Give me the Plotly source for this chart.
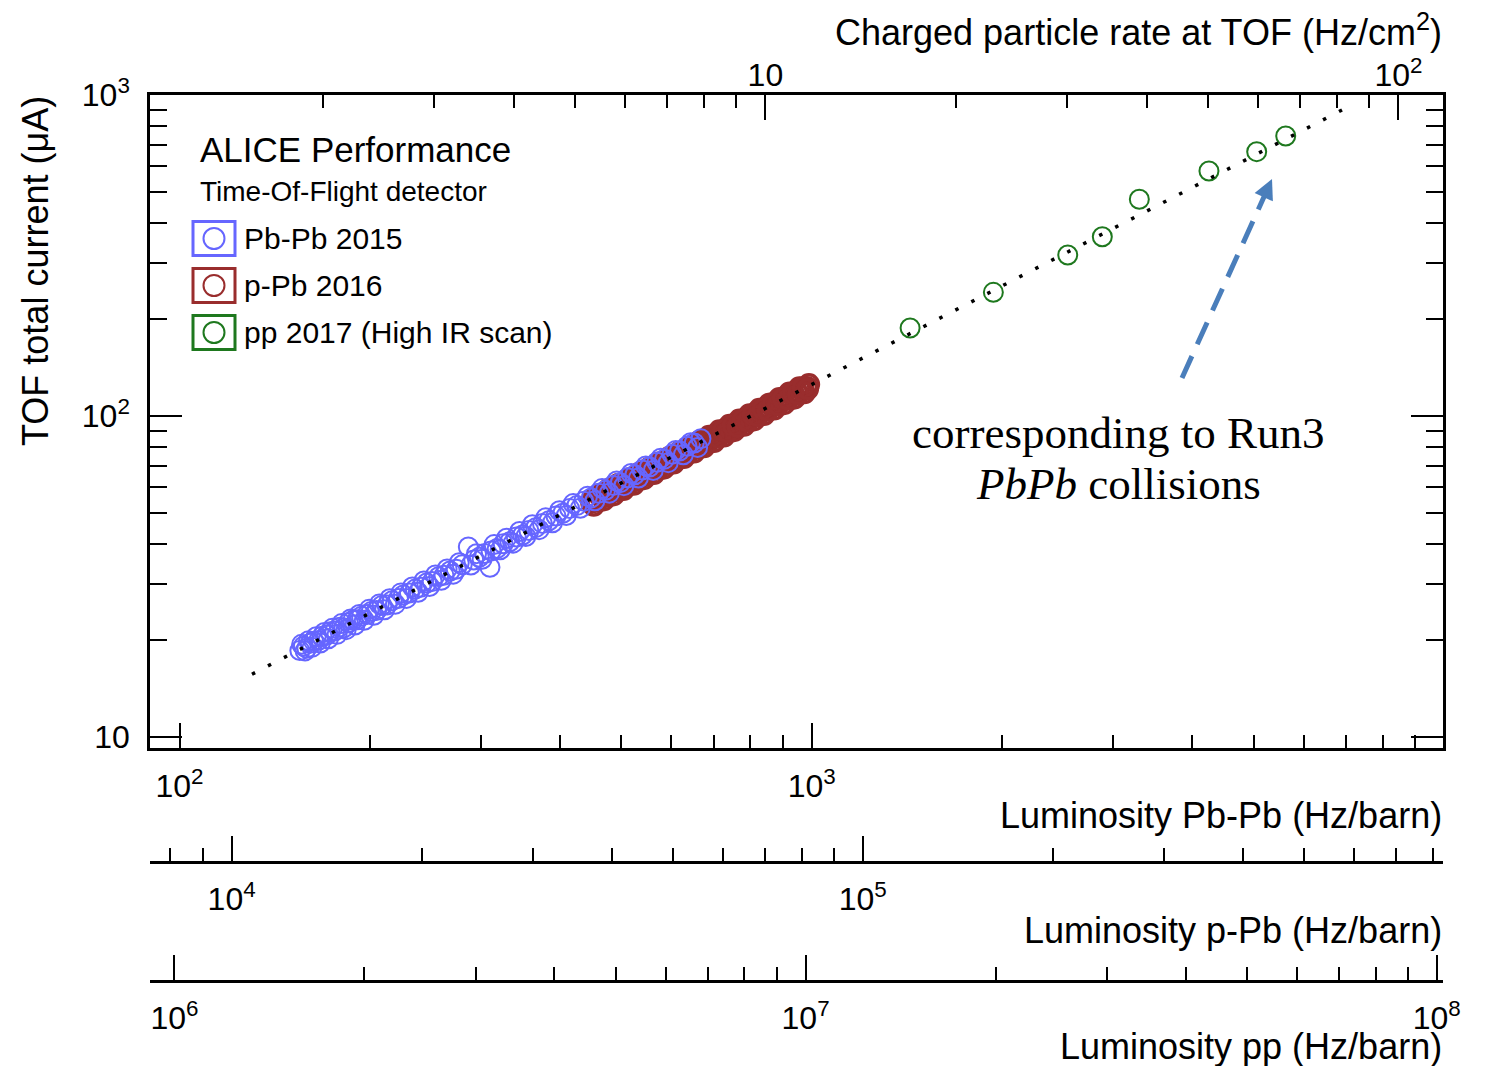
import plotly.graph_objects as go

# ---------------- data (x values expressed on the Pb-Pb luminosity scale, Hz/barn) -------------
pbpb_lumi = [155, 157, 159, 161, 163, 166, 168, 171, 173, 176, 179, 182, 185, 188, 191, 194,
             198, 201, 205, 209, 213, 217, 222, 226, 231, 236, 241, 246, 251, 257, 262, 268,
             274, 280, 286.3, 292, 298, 304, 309.8, 311, 318, 325, 333, 341, 349, 357, 366,
             375, 384, 394, 404, 414, 425, 436, 448, 460, 472, 485, 498, 511, 525, 539, 554,
             569, 585, 601, 618, 635, 652, 668,
             156, 158, 160, 162, 164.5, 167, 169.5, 172, 174.5, 177.5, 180.5, 183.5, 186.5,
             189.5, 192.5, 196, 199.5, 203, 207, 211, 215, 219.5, 224, 228.5, 233.5, 238.5,
             243.5, 248.5, 254, 259.5, 265, 271, 277, 289, 295, 301, 314.5, 321.5, 329, 337,
             345, 353, 361.5, 370.5, 379.5, 389, 399, 409, 419.5, 430.5, 442, 454, 466, 478.5,
             491.5, 504.5, 518, 532, 546.5, 561.5, 577, 593, 609.5, 626.5, 643.5, 660]
pbpb_current = [18.6, 19.2, 18.9, 19.6, 19.9, 20.0, 20.6, 20.8, 21.3, 21.4, 22.0, 21.9, 22.7,
                23.1, 23.2, 23.8, 24.1, 24.6, 24.8, 25.7, 25.8, 26.6, 27.0, 27.7, 28.1, 28.9,
                29.3, 30.2, 30.5, 31.6, 31.9, 32.9, 33.3, 34.4, 39.1, 35.6, 36.3, 37.3, 33.8,
                38.0, 38.7, 40.0, 40.6, 42.0, 42.6, 44.0, 44.9, 46.3, 47.2, 48.8, 49.8, 51.5,
                52.6, 54.3, 55.6, 57.5, 58.7, 60.8, 62.0, 64.2, 65.6, 67.9, 69.4, 71.8, 73.4,
                76.0, 77.8, 80.5, 82.4, 85.0,
                19.45, 18.55, 19.95, 19.03, 20.53, 19.63, 21.17, 20.23, 21.81, 20.89, 22.57,
                21.61, 23.33, 22.33, 24.10, 23.12, 25.00, 23.96, 25.96, 24.93, 26.98, 25.95,
                28.13, 27.03, 29.34, 28.24, 30.63, 29.45, 31.98, 30.78, 33.39, 32.17, 34.94,
                34.36, 37.26, 35.81, 39.77, 38.31, 41.64, 40.19, 43.71, 42.14, 45.85, 44.27,
                48.18, 46.53, 50.71, 48.98, 53.37, 51.60, 56.29, 54.48, 59.42, 57.50, 62.75,
                60.69, 66.21, 64.07, 69.93, 67.71, 73.91, 71.59, 78.17, 75.71, 82.63, 79.85]

ppb_lumi_equiv = [448, 456, 465, 473, 482, 491, 500, 509, 519, 528, 538, 548, 558, 568, 579,
                  590, 600, 611, 623, 634, 646, 658, 670, 682, 695, 708, 721, 734, 748, 761,
                  775, 790, 804, 819, 834, 849, 865, 881, 897, 914, 931, 948, 965, 983,
                  452, 460, 469, 477, 486, 495, 504, 514, 523, 533, 543, 553, 563, 573, 584,
                  595, 605, 617, 628, 640, 652, 664, 676, 688, 701, 714, 727, 741, 754, 768,
                  782, 797, 811, 826, 841, 857, 873, 889, 905, 922, 939, 956, 974, 990,
                  450, 458, 467, 475, 484, 493, 502, 511, 521, 530, 540, 550, 560, 571, 581,
                  592, 603, 614, 626, 637, 649, 661, 673, 685, 698, 711, 724, 737, 751, 764,
                  778, 793, 807, 822, 837, 853, 869, 885, 901, 918, 935, 952, 969, 986]
ppb_current = [53.8, 55.2, 55.8, 57.4, 58.1, 59.6, 60.3, 61.9, 62.8, 64.5, 65.2, 67.0, 67.9,
               69.6, 70.8, 72.5, 73.4, 75.2, 76.4, 78.3, 79.4, 81.5, 82.6, 84.8, 86.0, 88.1,
               89.6, 91.4, 92.9, 95.0, 96.4, 98.7, 100.2, 102.5, 104.0, 106.4, 108.1, 110.3,
               112.1, 114.6, 116.3, 118.9, 120.6, 123.0,
               52.6, 56.9, 54.7, 59.1, 56.7, 61.4, 58.9, 63.9, 61.2, 66.3, 63.7, 68.9, 66.1,
               71.5, 68.7, 74.4, 71.3, 77.3, 74.1, 80.3, 77.1, 83.4, 80.1, 86.6, 83.2, 90.1,
               86.5, 93.7, 89.9, 97.3, 93.4, 101.2, 97.1, 105.1, 100.9, 109.3, 105.0, 113.6,
               109.1, 118.2, 113.5, 122.8, 118.0, 125.5,
               54.8, 54.2, 56.9, 56.3, 59.1, 58.5, 61.4, 60.7, 63.8, 63.0, 66.3, 65.5, 68.8,
               68.2, 71.5, 70.7, 74.3, 73.5, 77.3, 76.4, 80.3, 79.4, 83.4, 82.4, 86.7, 85.8,
               90.1, 89.0, 93.6, 92.5, 97.2, 96.2, 101.0, 100.0, 105.1, 104.0, 109.3, 108.2,
               113.6, 112.5, 118.2, 116.9, 122.8, 121.4]

pp_lumi_equiv = [1431, 1938, 2541, 2882, 3298, 4250, 5057, 5621]
pp_current = [188.0, 242.9, 317.4, 361.9, 473.3, 579.7, 666.0, 745.3]

fit_lumi = [130.2, 6900]
fit_current = [15.7, 898.0]

# axis tick labels
x_major = [1e2, 1e3, 1e4]
x_major_text = ["10<sup>2</sup>", "10<sup>3</sup>", "10<sup>4</sup>"]
x_minor = [200, 300, 400, 500, 600, 700, 800, 900, 2000, 3000, 4000, 5000, 6000, 7000, 8000, 9000]
top_major = [10, 100]
top_major_text = ["10", "10<sup>2</sup>"]
top_minor = [2, 3, 4, 5, 6, 7, 8, 9, 20, 30, 40, 50, 60, 70, 80, 90]
ppb_major = [1e4, 1e5]
ppb_major_text = ["10<sup>4</sup>", "10<sup>5</sup>"]
ppb_minor = [8e3, 9e3, 2e4, 3e4, 4e4, 5e4, 6e4, 7e4, 8e4, 9e4, 2e5, 3e5, 4e5, 5e5, 6e5, 7e5, 8e5]
pp_major = [1e6, 1e7, 1e8]
pp_major_text = ["10<sup>6</sup>", "10<sup>7</sup>", "10<sup>8</sup>"]
pp_minor = [2e6, 3e6, 4e6, 5e6, 6e6, 7e6, 8e6, 9e6, 2e7, 3e7, 4e7, 5e7, 6e7, 7e7, 8e7, 9e7]
y_major = [10, 100, 1000]
y_major_text = ["10", "10<sup>2</sup>", "10<sup>3</sup>"]
y_minor = [20, 30, 40, 50, 60, 70, 80, 90, 200, 300, 400, 500, 600, 700, 800, 900]

# ---------------- styling ----------------
BLUE = "rgb(102,102,255)"
RED = "rgb(153,45,45)"
GREEN = "rgb(30,120,30)"
ARROW = "rgb(74,126,187)"
FONT = "Liberation Sans"

OFF = 8  # page body margin
W, H = 1481, 1058
ML, MR, MT, MB = 142, 46, 87, 85
PW, PH = W - ML - MR, H - MT - MB


def px(x):
    """page x pixel -> paper fraction"""
    return (x - OFF - ML) / PW


def py(y):
    """page y pixel -> paper fraction"""
    return (H - MB - (y - OFF)) / PH


fig = go.Figure()

mk = dict(symbol="circle-open", size=19, line=dict(width=2))
fig.add_trace(go.Scatter(x=ppb_lumi_equiv, y=ppb_current, mode="markers",
                         marker=dict(color=RED, symbol="circle-open", size=19,
                                     line=dict(width=3.5)), name="p-Pb 2016"))
fig.add_trace(go.Scatter(x=pbpb_lumi, y=pbpb_current, mode="markers",
                         marker=dict(color=BLUE, **mk), name="Pb-Pb 2015"))
fig.add_trace(go.Scatter(x=pp_lumi_equiv, y=pp_current, mode="markers",
                         marker=dict(color=GREEN, **mk), name="pp 2017 (High IR scan)"))
fig.add_trace(go.Scatter(x=fit_lumi, y=fit_current, mode="lines",
                         line=dict(color="black", width=3.5, dash="3.5px,14.5px"), name="fit"))
for ax in ["x2", "x3", "x4"]:
    fig.add_trace(go.Scatter(x=[], y=[], xaxis=ax, yaxis="y", showlegend=False))

tick_common = dict(type="log", showline=True, linecolor="black", linewidth=2.5,
                   ticks="inside", tickcolor="black", tickwidth=2, ticklen=25,
                   showgrid=False, zeroline=False,
                   tickfont=dict(family=FONT, size=32, color="black"),
                   tickmode="array")
minor_x = dict(ticks="inside", ticklen=13, tickwidth=2, tickcolor="black", showgrid=False)

fig.update_layout(
    width=W, height=H,
    margin=dict(l=ML, r=MR, t=MT, b=MB),
    paper_bgcolor="white", plot_bgcolor="white",
    showlegend=False,
    xaxis=dict(**tick_common, range=[1.9533, 3.9986], anchor="y", side="bottom",
               tickvals=x_major, ticktext=x_major_text, ticklabelstandoff=8,
               minor=dict(**minor_x, tickvals=x_minor)),
    xaxis2=dict(**tick_common, range=[0.0278, 2.0704], anchor="y", side="top", overlaying="x",
                tickvals=top_major, ticktext=top_major_text, ticklabelstandoff=-7,
                minor=dict(**minor_x, tickvals=top_minor)),
    xaxis3=dict(**tick_common, range=[3.8707, 5.9192], anchor="free", position=py(862),
                side="bottom", overlaying="x", ticklabelstandoff=8,
                tickvals=ppb_major, ticktext=ppb_major_text,
                minor=dict(**minor_x, tickvals=ppb_minor)),
    xaxis4=dict(**tick_common, range=[5.9612, 8.01], anchor="free", position=py(981),
                side="bottom", overlaying="x", ticklabelstandoff=8,
                tickvals=pp_major, ticktext=pp_major_text,
                minor=dict(**minor_x, tickvals=pp_minor)),
    yaxis=dict(type="log", range=[0.966, 3.0], domain=[py(748), 1], anchor="x",
               showline=True, linecolor="black", linewidth=2.5, mirror="ticks",
               ticks="inside", tickcolor="black", tickwidth=2, ticklen=32,
               showgrid=False, zeroline=False, tickmode="array", ticklabelstandoff=11,
               tickvals=y_major, ticktext=y_major_text,
               tickfont=dict(family=FONT, size=32, color="black"),
               minor=dict(ticks="inside", ticklen=17, tickwidth=2, tickcolor="black",
                          showgrid=False, tickvals=y_minor)),
)

ann = []
title_font = dict(family=FONT, size=36, color="black")
ann.append(dict(text="Charged particle rate at TOF (Hz/cm<sup>2</sup>)", x=px(1444), y=py(30),
                xref="paper", yref="paper", xanchor="right", yanchor="middle",
                showarrow=False, font=title_font))
ann.append(dict(text="Luminosity Pb-Pb (Hz/barn)", x=px(1444), y=py(815), xref="paper",
                yref="paper", xanchor="right", yanchor="middle", showarrow=False,
                font=title_font))
ann.append(dict(text="Luminosity p-Pb (Hz/barn)", x=px(1444), y=py(930), xref="paper",
                yref="paper", xanchor="right", yanchor="middle", showarrow=False,
                font=title_font))
ann.append(dict(text="Luminosity pp (Hz/barn)", x=px(1444), y=py(1046), xref="paper",
                yref="paper", xanchor="right", yanchor="middle", showarrow=False,
                font=title_font))
ann.append(dict(text="TOF total current (\u03bcA)", x=px(35), y=py(271), xref="paper",
                yref="paper", xanchor="center", yanchor="middle", textangle=-90,
                showarrow=False, font=title_font))
ann.append(dict(text="ALICE Performance", x=px(198), y=py(149), xref="paper", yref="paper",
                xanchor="left", yanchor="middle", showarrow=False,
                font=dict(family=FONT, size=35, color="black")))
ann.append(dict(text="Time-Of-Flight detector", x=px(198), y=py(191), xref="paper", yref="paper",
                xanchor="left", yanchor="middle", showarrow=False,
                font=dict(family=FONT, size=28, color="black")))

legend_items = [("Pb-Pb 2015", BLUE, 238.5), ("p-Pb 2016", RED, 285.5),
                ("pp 2017 (High IR scan)", GREEN, 332.5)]
shapes = []
for label, col, yc in legend_items:
    shapes.append(dict(type="rect", xref="paper", yref="paper",
                       x0=px(193), x1=px(235), y0=py(yc + 17), y1=py(yc - 17),
                       line=dict(color=col, width=3)))
    shapes.append(dict(type="circle", xref="paper", yref="paper",
                       x0=px(203.5), x1=px(224.5), y0=py(yc + 10.5), y1=py(yc - 10.5),
                       line=dict(color=col, width=2)))
    ann.append(dict(text=label, x=px(242), y=py(yc), xref="paper", yref="paper",
                    xanchor="left", yanchor="middle", showarrow=False,
                    font=dict(family=FONT, size=30, color="black")))

# dashed arrow
shapes.append(dict(type="line", xref="paper", yref="paper",
                   x0=px(1182), y0=py(378), x1=px(1265.5), y1=py(193.5),
                   line=dict(color=ARROW, width=5, dash="24px,13px")))
ann.append(dict(text="", x=px(1272), y=py(179), xref="paper", yref="paper",
                ax=-7.4, ay=16.4, showarrow=True, arrowhead=2, arrowsize=1,
                arrowwidth=4, arrowcolor=ARROW, standoff=0))

serif = dict(family="Liberation Serif", size=45, color="black")
ann.append(dict(text="corresponding to Run3", x=px(1118), y=py(433),
                xref="paper", yref="paper", xanchor="center", yanchor="middle",
                showarrow=False, font=serif))
ann.append(dict(text="<i>PbPb</i> collisions", x=px(1118), y=py(484),
                xref="paper", yref="paper", xanchor="center", yanchor="middle",
                showarrow=False, font=serif))

fig.update_layout(annotations=ann, shapes=shapes)
fig.write_html("out.html")
